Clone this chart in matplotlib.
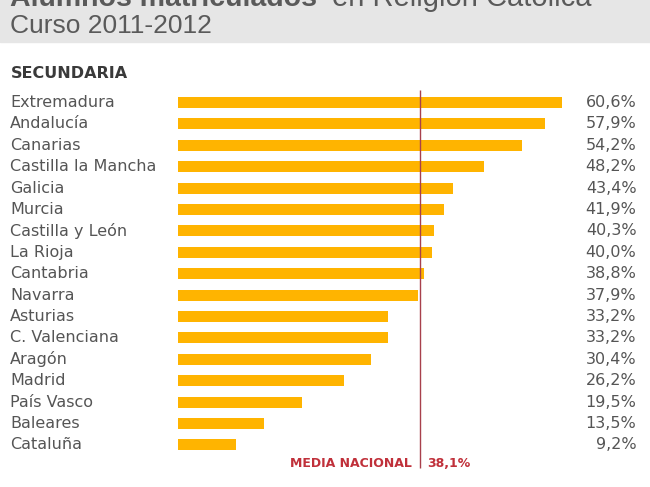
import matplotlib.pyplot as plt
from matplotlib.patches import Rectangle

regiones = ["Extremadura", "Andalucía", "Canarias", "Castilla la Mancha", "Galicia",
            "Murcia", "Castilla y León", "La Rioja", "Cantabria", "Navarra",
            "Asturias", "C. Valenciana", "Aragón", "Madrid", "País Vasco",
            "Baleares", "Cataluña"]
porcentajes = [60.6, 57.9, 54.2, 48.2, 43.4, 41.9, 40.3, 40.0, 38.8, 37.9,
               33.2, 33.2, 30.4, 26.2, 19.5, 13.5, 9.2]
media_nacional = 38.1

W, H = 650, 487
plt.rcParams['font.family'] = ['DejaVu Sans']
fig = plt.figure(figsize=(W / 100, H / 100), dpi=100)
fig.patch.set_facecolor('white')

def fx(px):
    return px / W

def fy(py):
    return 1 - py / H

# cabecera gris
fig.patches.append(Rectangle((0, fy(42)), 1, 42 / H, transform=fig.transFigure,
                             color='#e6e6e6', zorder=0))
fig.text(fx(10), fy(6), "Alumnos matriculados", fontsize=20.5, fontweight='bold',
         color='#5a5a5a', va='baseline', family='Liberation Sans')
fig.text(fx(332), fy(6), "en Religión Católica", fontsize=21,
         color='#5a5a5a', va='baseline', family='Liberation Sans')
fig.text(fx(10), fy(33), "Curso 2011-2012", fontsize=19,
         color='#5a5a5a', va='baseline', family='Liberation Sans')

fig.text(fx(11), fy(73), "SECUNDARIA", fontsize=11.5, fontweight='bold',
         color='#3a3a3a', va='center')

# ejes: 6.34 px por punto porcentual, 21.4 px entre barras
paso = 21.4
x0, escala = 178, 6.34
xmax = 72
y_top = 102.5 - 1.5 * paso
y_bot = 102.5 + 17.5 * paso
ax = fig.add_axes([fx(x0), fy(y_bot), xmax * escala / W, (y_bot - y_top) / H])
ax.set_xlim(0, xmax)
ax.set_ylim(17.5, -1.5)
ax.axis('off')

pos = list(range(len(regiones)))
ax.barh(pos, porcentajes, height=0.52, color='#ffb400', zorder=2)
ax.vlines(media_nacional, -0.6, 17.1, color='#a8404c', linewidth=1, zorder=3)

for i, (r, v) in enumerate(zip(regiones, porcentajes)):
    ax.text(-168 / escala, i, r, fontsize=11.5, color='#555555',
            va='center', ha='left')
    ax.text(xmax + 2 / escala, i, f"{v:.1f}%".replace('.', ','), fontsize=11.5,
            color='#555555', va='center', ha='right')

ax.text(media_nacional - 1.2, 16.85, "MEDIA NACIONAL", fontsize=9,
        fontweight='bold', color='#c0303a', ha='right', va='center')
ax.text(media_nacional + 1.2, 16.85, f"{media_nacional:.1f}%".replace('.', ','),
        fontsize=9, fontweight='bold', color='#c0303a', ha='left', va='center')

fig.savefig("out.png", dpi=100)
